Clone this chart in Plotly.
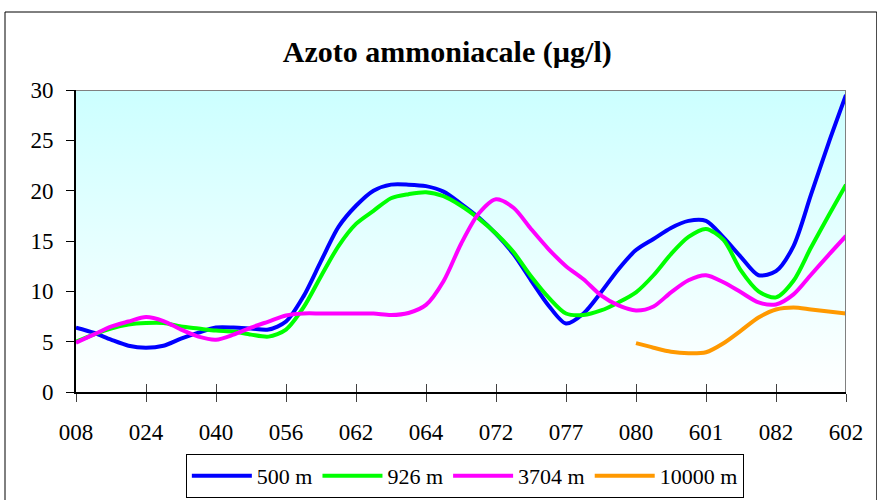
import plotly.graph_objects as go

TICK_LABELS = ["008", "024", "040", "056", "062", "064", "072", "077", "080", "601", "082", "602"]
POINTS_PER_TICK = 4

S500 = [6.4, 5.9, 5.2, 4.6, 4.4, 4.6, 5.3, 5.9, 6.4, 6.4, 6.3, 6.2, 7.0, 9.5, 13.0, 16.4, 18.5, 20.0,
        20.6, 20.6, 20.45, 19.9, 18.7, 17.35, 15.7, 13.7, 11.1, 8.6, 6.8, 7.8, 9.9, 12.2, 14.1, 15.2,
        16.3, 17.0, 17.0, 15.35, 13.4, 11.6, 12.0, 14.5, 19.6, 24.7, 29.5]
S926 = [5.0, 5.7, 6.3, 6.7, 6.85, 6.85, 6.5, 6.3, 6.1, 6.0, 5.7, 5.5, 6.2, 8.4, 11.5, 14.5, 16.7, 18.0,
        19.25, 19.65, 19.85, 19.45, 18.5, 17.25, 15.75, 13.9, 11.5, 9.4, 7.8, 7.65, 8.1, 8.9, 9.9, 11.6,
        13.7, 15.4, 16.2, 15.1, 12.05, 10.0, 9.4, 11.05, 14.35, 17.5, 20.6]
S3704 = [4.9, 5.7, 6.5, 7.0, 7.45, 7.05, 6.2, 5.5, 5.2, 5.7, 6.4, 7.0, 7.6, 7.8, 7.8, 7.8, 7.8, 7.8,
         7.65, 7.85, 8.65, 11.0, 14.7, 17.7, 19.15, 18.3, 16.2, 14.2, 12.5, 11.2, 9.6, 8.6, 8.1, 8.5,
         9.9, 11.1, 11.6, 10.9, 9.9, 8.9, 8.7, 9.7, 11.65, 13.6, 15.5]
S10000 = [None] * 32 + [4.85, 4.4, 4.0, 3.85, 3.95, 4.85, 6.1, 7.4, 8.2, 8.4, 8.2, 8.0, 7.8]

SERIES = [("500 m", S500, "#0000FF"), ("926 m", S926, "#00FF00"),
          ("3704 m", S3704, "#FF00FF"), ("10000 m", S10000, "#FF9900")]

n = len(S500)
xs = list(range(n))
tickvals = [i * POINTS_PER_TICK for i in range(len(TICK_LABELS))]
xmax = tickvals[-1]
YMAX = 30

FONT = "Liberation Serif, Times New Roman, serif"

fig = go.Figure()
# plot-area gradient background
fig.add_trace(go.Scatter(
    x=[0, xmax, xmax, 0, 0], y=[0, 0, YMAX, YMAX, 0], mode="lines", fill="toself",
    line=dict(width=0), showlegend=False, hoverinfo="skip",
    fillgradient=dict(type="vertical", colorscale=[[0, "#FFFFFF"], [1, "#CCFFFF"]]),
))
for name, vals, color in SERIES:
    fig.add_trace(go.Scatter(
        x=xs, y=vals, name=name, mode="lines",
        line=dict(color=color, width=4, shape="spline", smoothing=0.8),
        connectgaps=False,
    ))
# empty trace so the overlaid axis (inner half of the cross tick marks) is drawn
fig.add_trace(go.Scatter(x=[], y=[], xaxis="x2", yaxis="y", showlegend=False, hoverinfo="skip"))

fig.update_layout(
    width=877, height=500,
    margin=dict(l=76, r=31, t=90, b=108, autoexpand=False),
    paper_bgcolor="white", plot_bgcolor="rgba(0,0,0,0)",
    font=dict(family=FONT, size=22, color="black"),
    title=dict(text="<b>Azoto ammoniacale (µg/l)</b>", x=0.51, xanchor="center",
               xref="container", yref="container",
               y=1 - 51 / 500, yanchor="middle", font=dict(family=FONT, size=30, color="black")),
    showlegend=True,
    hovermode=False,
    legend=dict(orientation="h", x=0.505, xanchor="center", y=-0.205, yanchor="top",
                bordercolor="black", borderwidth=1, bgcolor="white",
                font=dict(family=FONT, size=22), itemwidth=60, tracegroupgap=0),
    xaxis=dict(range=[0, xmax], tickvals=tickvals, ticktext=TICK_LABELS,
               showgrid=False, zeroline=False, showline=True, linecolor="black", linewidth=2,
               ticks="outside", ticklen=8, tickcolor="#404040", tickwidth=1,
               ticklabelstandoff=10,
               tickfont=dict(family=FONT, size=23)),
    xaxis2=dict(range=[0, xmax], overlaying="x", anchor="y", side="bottom", matches="x",
                tickvals=tickvals, ticks="inside", ticklen=8, tickcolor="#404040", tickwidth=1,
                showticklabels=False, showgrid=False, zeroline=False, showline=False),
    yaxis=dict(range=[0, YMAX], dtick=5, showgrid=True, gridcolor="#404040", gridwidth=1,
               zeroline=False, showline=True, linecolor="black", linewidth=2,
               ticks="outside", ticklen=8, tickcolor="black",
               ticklabelstandoff=8,
               tickfont=dict(family=FONT, size=23)),
    shapes=[
        dict(type="line", xref="x", yref="y", x0=0, x1=xmax, y0=YMAX, y1=YMAX,
             line=dict(color="#808080", width=2)),
        dict(type="line", xref="x", yref="y", x0=xmax, x1=xmax, y0=0, y1=YMAX,
             line=dict(color="#808080", width=2)),
        dict(type="rect", xref="paper", yref="paper",
             x0=-71 / 770, x1=1.04, y0=-0.4, y1=(392 - 12) / 302,
             line=dict(color="black", width=1), fillcolor="rgba(0,0,0,0)", layer="below"),
    ],
)

fig.write_html("out.html", config={"displayModeBar": False},
               post_script="document.body.style.margin='0';document.body.style.padding='0';")
